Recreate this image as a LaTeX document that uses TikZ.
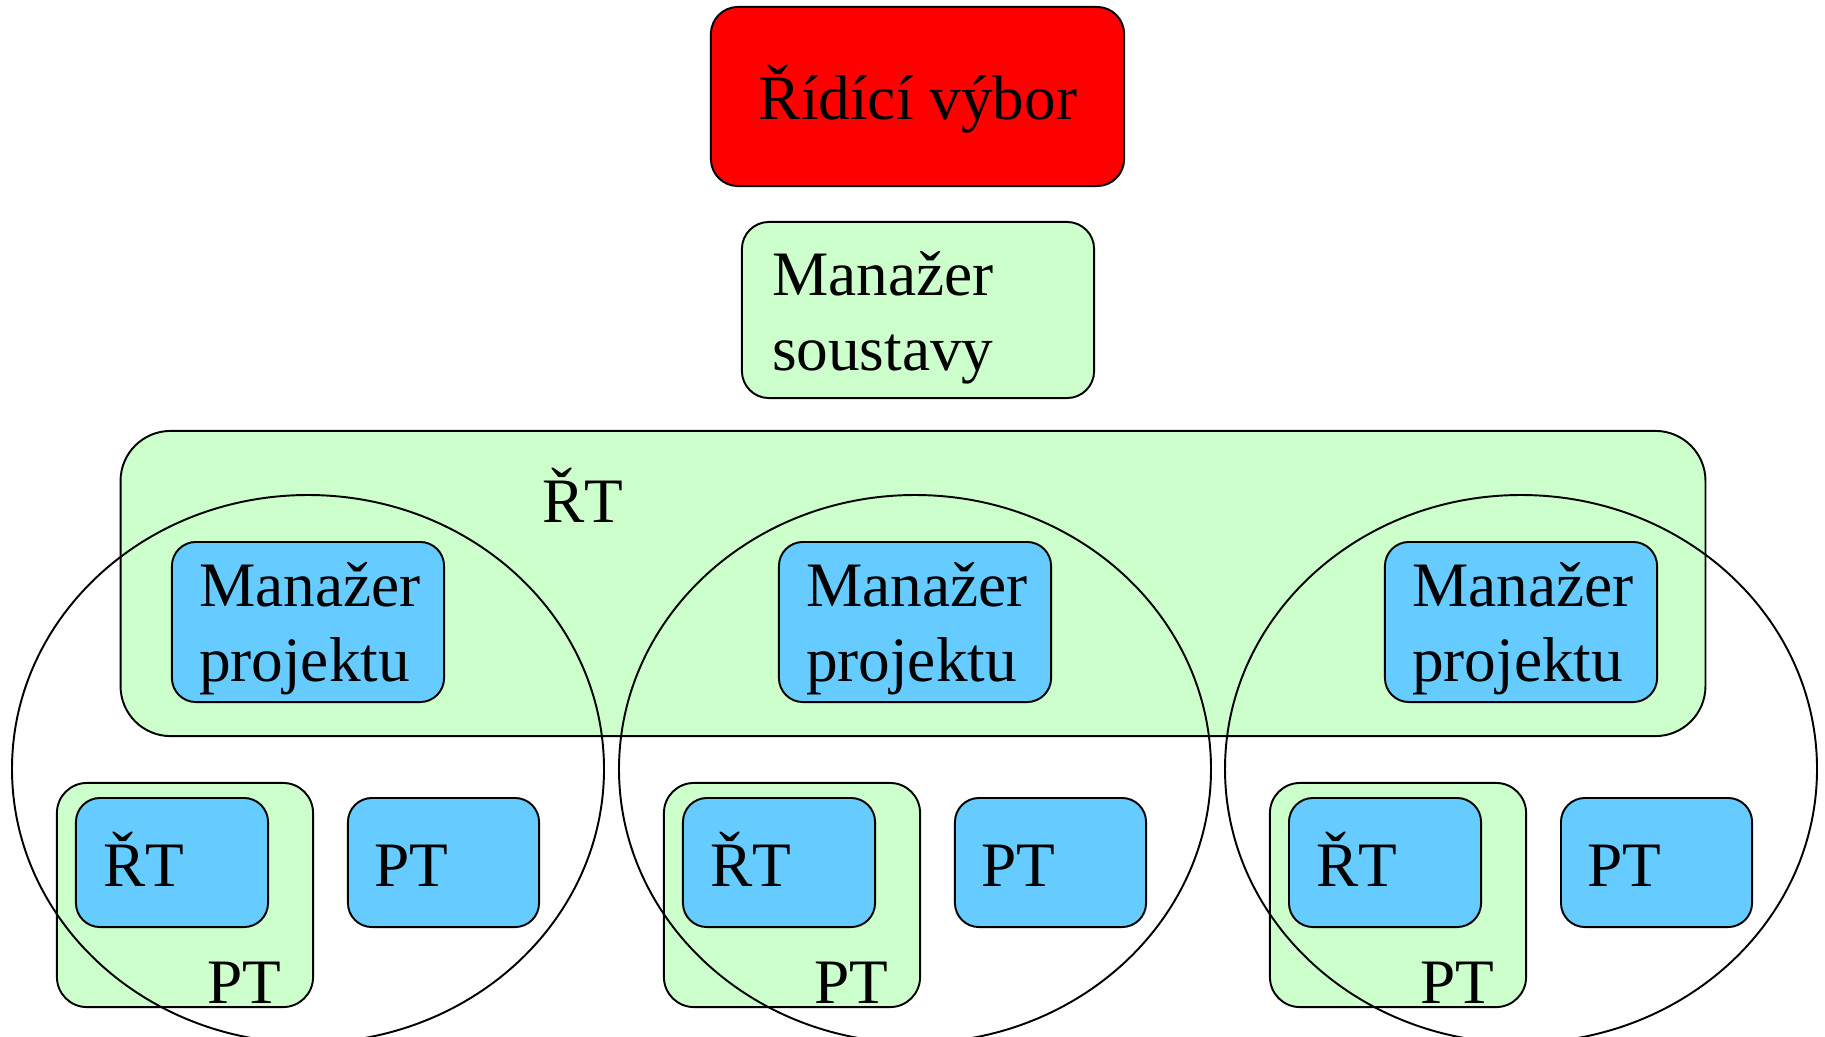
\documentclass[tikz,border=0pt]{standalone}
\usepackage{fontspec}
\setmainfont{Liberation Serif}
\newcommand{\twoline}[2]{\vtop{\baselineskip=0.75cm\hbox{#1}\hbox{#2}}}
\begin{document}
\begin{tikzpicture}[x=0.01cm,y=-0.01cm,
  font=\fontsize{18}{21.3}\selectfont,
  box/.style={draw=black,line width=0.55pt,inner sep=0pt,outer sep=0pt},
  redbox/.style={box,fill=red,rounded corners=0.27cm},
  greenbox/.style={box,fill=green!20,rounded corners=0.27cm},
  bigbox/.style={box,fill=green!20,rounded corners=0.5cm},
  bluebox/.style={box,fill=cyan!60!blue!60,rounded corners=0.24cm},
  txt/.style={inner sep=0pt,outer sep=0pt,anchor=base west},
  team/.style={draw=black,line width=0.55pt}]
  \definecolor{paleGreen}{HTML}{CCFFCC}
  \definecolor{skyBlue}{HTML}{66CCFF}
  \tikzset{greenbox/.append style={fill=paleGreen},bigbox/.append style={fill=paleGreen},
           bluebox/.append style={fill=skyBlue}}
  \useasboundingbox (0,0) rectangle (1825,1036);
  \clip (0,0) rectangle (1825,1036);

  % steering committee and system manager
  \node[redbox,minimum width=4.13cm,minimum height=1.79cm] (vybor) at (917.5,96.5) {};
  \node[inner sep=0pt,anchor=base] (vybortxt) at (918,119) {Řídící výbor};
  \node[greenbox,minimum width=3.52cm,minimum height=1.76cm] (soustava) at (918,310) {};
  \node[txt] (soustavatxt) at (772,295) {\twoline{Manažer}{soustavy}};

  % steering team band
  \node[bigbox,minimum width=15.84cm,minimum height=3.05cm] (rt) at (913,583.5) {};
  \node[txt] (rttxt) at (542,522) {ŘT};

  % three project teams
  \foreach \c [count=\i] in {308,915,1521}{
    \node[bluebox,minimum width=2.72cm,minimum height=1.60cm] (mp\i) at (\c,622) {};
    \node[txt] (mptxt\i) at (\c-109,606) {\twoline{Manažer}{projektu}};
    \node[greenbox,rounded corners=0.3cm,minimum width=2.56cm,minimum height=2.24cm] (ptg\i) at (\c-123,895) {};
    \node[bluebox,minimum width=1.92cm,minimum height=1.29cm] (rtb\i) at (\c-136,862.5) {};
    \node[txt] (rtbtxt\i) at (\c-205,886) {ŘT};
    \node[txt] (ptgtxt\i) at (\c-101,1003) {PT};
    \node[bluebox,minimum width=1.91cm,minimum height=1.29cm] (ptb\i) at (\c+135.5,862.5) {};
    \node[txt] (ptbtxt\i) at (\c+66,886) {PT};
  }
  \foreach \c in {308,915,1521}{
    \draw[team] (\c,769) ellipse [x radius=296, y radius=274];
  }
\end{tikzpicture}
\end{document}
